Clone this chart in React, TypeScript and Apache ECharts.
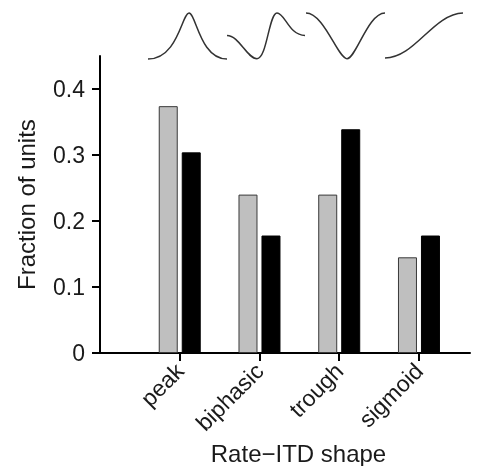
import React, { useEffect, useRef } from "react";
import * as echarts from "echarts";

const categories = ["peak", "biphasic", "trough", "sigmoid"];
const categoryPositions = [1, 2, 3, 4];
const fractionGray = [0.374, 0.24, 0.24, 0.145];
const fractionBlack = [0.304, 0.178, 0.339, 0.178];
const yTickValues = [0, 0.1, 0.2, 0.3, 0.4];

const ICON_PATHS: Record<string, string> = {
  iconPeak: "M0 46 C30 46 34 0 41 0 C48 0 52 46 79 46",
  iconBiphasic: "M0 22.4 C12 22.4 20 45.7 30 45.7 C40 45.7 42 0 50 0 C58 0 62 22.4 78 22.4",
  iconTrough: "M0 0 C18 0 32 45.7 41 45.7 C50 45.7 62 0 79 0",
  iconSigmoid: "M0 45 C30 45 48 1 78 0",
};

let registered = false;
function registerIcons() {
  if (registered) return;
  registered = true;
  Object.keys(ICON_PATHS).forEach((k) => {
    echarts.graphic.registerShape(k, echarts.graphic.extendPath(ICON_PATHS[k], {}) as any);
  });
}

const FONT = "Liberation Sans";
const TEXT_COLOR = "#1a1a1a";

export default function App() {
  const ref = useRef<HTMLDivElement>(null);
  useEffect(() => {
    if (!ref.current) return;
    registerIcons();
    const chart = echarts.init(ref.current, undefined, { renderer: "svg" });
    const iconStyle = { stroke: "#333", fill: "none", lineWidth: 1.5 };
    chart.setOption({
      animation: false,
      grid: { left: 100, right: 26, top: 56, bottom: 113, outerBoundsMode: "none", containLabel: false },
      xAxis: {
        type: "value",
        min: 0,
        max: 4.64,
        name: "Rate\u2212ITD shape",
        nameLocation: "middle",
        nameGap: 88,
        nameTextStyle: { fontSize: 24, color: TEXT_COLOR, fontFamily: FONT, padding: [0, 0, 0, 27] },
        axisLine: { show: true, lineStyle: { color: "#000", width: 2 } },
        axisTick: { show: true, length: 8, lineStyle: { color: "#000", width: 2 }, customValues: categoryPositions },
        axisLabel: {
          customValues: categoryPositions,
          rotate: 45,
          fontSize: 23,
          color: TEXT_COLOR,
          fontFamily: FONT,
          margin: 14,
          formatter: (v: number) => categories[categoryPositions.indexOf(Math.round(v))] ?? "",
        },
        splitLine: { show: false },
      },
      yAxis: {
        type: "value",
        min: 0,
        max: 0.45,
        name: "Fraction of units",
        nameLocation: "middle",
        nameGap: 62,
        nameTextStyle: { fontSize: 24, color: TEXT_COLOR, fontFamily: FONT },
        axisLine: { show: true, lineStyle: { color: "#000", width: 2 } },
        axisTick: { show: true, length: 8, lineStyle: { color: "#000", width: 2 }, customValues: yTickValues },
        axisLabel: {
          customValues: yTickValues,
          fontSize: 23,
          color: TEXT_COLOR,
          fontFamily: FONT,
          margin: 15,
          formatter: (v: number) => (v === 0 ? "0" : String(Math.round(v * 10) / 10)),
        },
        splitLine: { show: false },
      },
      series: [
        {
          type: "bar",
          data: categoryPositions.map((x, i) => [x, fractionGray[i]]),
          barWidth: 19,
          barGap: "21%",
          itemStyle: { color: "#bfbfbf", borderColor: "#3a3a3a", borderWidth: 1 },
        },
        {
          type: "bar",
          data: categoryPositions.map((x, i) => [x, fractionBlack[i]]),
          barWidth: 19,
          barGap: "21%",
          itemStyle: { color: "#000", borderColor: "#000", borderWidth: 1 },
        },
      ],
      graphic: [
        { type: "iconPeak", x: 148, y: 13, style: iconStyle },
        { type: "iconBiphasic", x: 227, y: 13, style: iconStyle },
        { type: "iconTrough", x: 306, y: 13, style: iconStyle },
        { type: "iconSigmoid", x: 385, y: 13, style: iconStyle },
      ],
    });
    return () => chart.dispose();
  }, []);
  return <div ref={ref} style={{ position: "fixed", left: 0, top: 0, width: 496, height: 466 }} />;
}
